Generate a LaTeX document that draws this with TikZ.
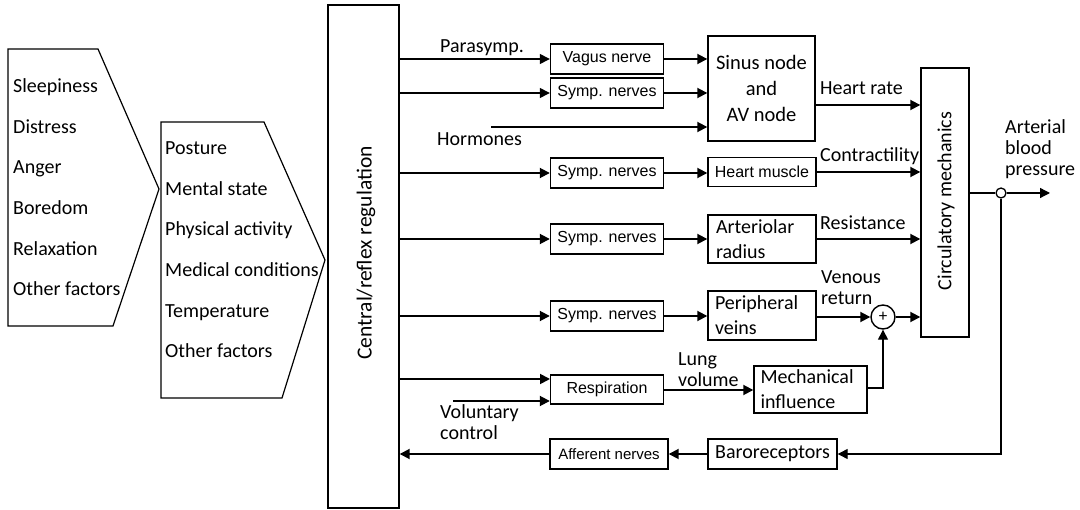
\documentclass[tikz,border=0pt]{standalone}
\usepackage{fontspec}
\setmainfont{Carlito}
\newfontfamily\arialf{Liberation Sans}
\usetikzlibrary{arrows.meta,calc}
\begin{document}
\begin{tikzpicture}[x=1pt,y=-1pt,
  blk/.style={draw,line width=1.4pt,inner sep=0pt,font=\fontsize{20}{25}\selectfont},
  sblk/.style={draw,line width=1.4pt,inner sep=0pt,font=\arialf\fontsize{16}{18}\selectfont},
  arr/.style={line width=1.8pt,-{Triangle[length=10pt,width=10pt]}},
  thinarr/.style={line width=1.3pt,-{Triangle[length=10pt,width=10pt]}},
  lbl/.style={inner sep=0pt,font=\fontsize{20}{21}\selectfont},
  lst/.style={inner sep=0pt,align=left,font=\fontsize{20}{40.7}\selectfont}]
\useasboundingbox[fill=white] (0,0) rectangle (1080,510);

% input pentagons
\draw[line width=1.2pt] (8,49) -- (98,49) -- (159,189) -- (113,326) -- (8,326) -- cycle;
\draw[line width=1.2pt] (161,122) -- (264,122) -- (325,260) -- (282,398) -- (161,398) -- cycle;
\node[lst,anchor=base west] (list1) at (13,296) {Sleepiness\\Distress\\Anger\\Boredom\\Relaxation\\Other factors};
\node[lst,anchor=base west] (list2) at (165,358) {Posture\\Mental state\\Physical activity\\Medical conditions\\Temperature\\Other factors};

% main blocks
\node[blk,minimum width=71pt,minimum height=503pt] (central) at (363.5,256.5) {};
\node[font=\fontsize{21.5}{24}\selectfont,rotate=90,inner sep=0pt] (centraltext) at (366,253) {Central/reflex regulation};
\node[blk,minimum width=48pt,minimum height=269pt] (circ) at (945,202.5) {};
\node[font=\fontsize{20}{24}\selectfont,rotate=90,inner sep=0pt] (circtext) at (946,201) {Circulatory mechanics};

\node[sblk,minimum width=113pt,minimum height=30pt] (vagus) at (607,59) {Vagus nerve};
\node[sblk,minimum width=113pt,minimum height=30pt] (symp1) at (607,93) {Symp. nerves};
\node[blk,minimum width=107pt,minimum height=105pt,align=center,font=\fontsize{20.5}{26}\selectfont] (sinus) at (761.5,88.5) {Sinus node\\and\\AV node};

\node[sblk,minimum width=113pt,minimum height=30pt] (symp2) at (607,173) {Symp. nerves};
\node[sblk,minimum width=108pt,minimum height=29pt] (heart) at (762,172) {Heart muscle};

\node[sblk,minimum width=113pt,minimum height=30pt] (symp3) at (607,239) {Symp. nerves};
\node[blk,minimum width=108pt,minimum height=48pt,align=left,text width=92pt] (arteriol) at (762,239) {Arteriolar\\radius};

\node[sblk,minimum width=113pt,minimum height=30pt] (symp4) at (607,316) {Symp. nerves};
\node[blk,minimum width=108pt,minimum height=49pt,align=left,text width=94pt] (periph) at (762,315.5) {Peripheral\\veins};
\node[draw,circle,line width=1.4pt,minimum size=24pt,inner sep=0pt,font=\fontsize{17}{17}\selectfont] (plus) at (883,317) {+};

\node[sblk,minimum width=113pt,minimum height=29pt] (resp) at (607,389.5) {Respiration};
\node[blk,minimum width=113pt,minimum height=47pt,align=left,text width=100pt] (mech) at (810.5,389.5) {Mechanical\\influence};

\node[sblk,minimum width=118pt,minimum height=30pt,font=\arialf\fontsize{15}{18}\selectfont] (afferent) at (609,454) {Afferent nerves};
\node[blk,minimum width=129pt,minimum height=30pt] (baro) at (772.5,454) {Baroreceptors};

\node[draw,circle,line width=1.3pt,minimum size=10pt,inner sep=0pt,fill=white] (tap) at (1001,193) {};
\coordinate (out) at (1050,193);
\coordinate (hstart) at (491,127);
\coordinate (volstart) at (453,401);
\coordinate (hr) at (815,105);
\coordinate (respin) at (550,379);
\coordinate (respout) at (663,390);
\coordinate (mechout) at (867,388);

% labels
\node[lbl,anchor=base west] (lparasymp) at (440,53) {Parasymp.};
\node[lbl,anchor=base west] (lhormones) at (437,146) {Hormones};
\node[lbl,anchor=base west] (lheartrate) at (820,95) {Heart rate};
\node[lbl,anchor=base west] (lcontract) at (820,162) {Contractility};
\node[lbl,anchor=base west] (lresist) at (820,230) {Resistance};
\node[lbl,anchor=base west,align=left] (lvenous) at (821,305) {Venous\\return};
\node[lbl,anchor=base west,align=left] (lpressure) at (1005,176) {Arterial\\blood\\pressure};
\node[lbl,anchor=base west,align=left] (llung) at (678,387) {Lung\\volume};
\node[lbl,anchor=base west,align=left] (lvol) at (440,440) {Voluntary\\control};

% connectors
\draw[thinarr] (vagus.west -| central.east) -- (vagus.west);
\draw[thinarr] (symp1.west -| central.east) -- (symp1.west);
\draw[arr] (vagus.east) -- (vagus.east -| sinus.west);
\draw[arr] (symp1.east) -- (symp1.east -| sinus.west);
\draw[arr] (hstart) -- (hstart -| sinus.west);
\draw[arr] (hr) -- (hr -| circ.west);

\draw[arr] (symp2.west -| central.east) -- (symp2.west);
\draw[arr] (symp2.east) -- (symp2.east -| heart.west);
\draw[arr] (heart.east) -- (heart.east -| circ.west);

\draw[arr] (symp3.west -| central.east) -- (symp3.west);
\draw[arr] (symp3.east) -- (symp3.east -| arteriol.west);
\draw[arr] (arteriol.east) -- (arteriol.east -| circ.west);

\draw[arr] (symp4.west -| central.east) -- (symp4.west);
\draw[arr] (symp4.east) -- (symp4.east -| periph.west);
\draw[arr] (plus.west -| periph.east) -- (plus.west);
\draw[arr] (plus.east) -- (plus.east -| circ.west);

\draw[arr] (respin -| central.east) -- (respin);
\draw[arr] (volstart) -- (volstart -| resp.west);
\draw[arr] (respout) -- (respout -| mech.west);
\draw[thinarr] (mechout) -| (plus.south);

\draw[line width=1.3pt] (tap.west -| circ.east) -- (tap.west);
\draw[thinarr] (tap.east) -- (out);
\draw[thinarr] (tap.south) |- (baro.east);
\draw[arr] (baro.west) -- (afferent.east);
\draw[arr] (afferent.west) -- (afferent.west -| central.east);
\end{tikzpicture}
\end{document}
